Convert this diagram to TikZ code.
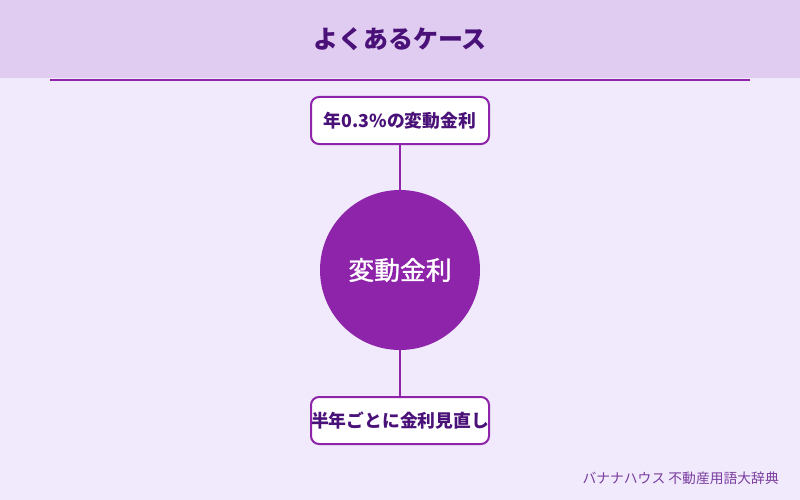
\documentclass[tikz,border=0pt]{standalone}
\usepackage{fontspec}
\setmainfont{Noto Sans CJK JP}
\newfontfamily\jpmedium{Noto Sans CJK JP}[FakeBold=1.2]
\definecolor{bgPurple}{HTML}{F0EAFC}
\definecolor{headPurple}{HTML}{E1CCF1}
\definecolor{mainPurple}{HTML}{8E24AA}
\definecolor{textPurple}{HTML}{4A1279}
\definecolor{footPurple}{HTML}{7A3C9E}
\begin{document}
\begin{tikzpicture}
[x=1pt,y=-1pt,
  linkDecorate/.style={-,line width=2pt,draw=mainPurple},%
  boxDecorate/.style={shape=rectangle,rounded corners=8pt,draw=mainPurple,line width=2pt,
    fill=white,minimum width=178pt,minimum height=47pt,inner sep=0pt,
    text=textPurple,font=\fontsize{17.8}{20}\selectfont\bfseries},%
  hubDecorate/.style={shape=circle,fill=mainPurple,minimum size=160pt,inner sep=0pt,
    text=white,font=\jpmedium\fontsize{25.8}{30}\selectfont}]
%% background and header
\fill[bgPurple] (0,0) rectangle (800,500);
\fill[headPurple] (0,0) rectangle (800,78);
\draw[line width=2pt,draw=mainPurple] (50,80) -- (750,80);
\node (title) at (400,39) [text=textPurple,font=\fontsize{25}{30}\selectfont\bfseries] {よくあるケース};
%% nodes
\node (hub) at (400,270) [hubDecorate] {変動金利};
\foreach \nodename/\nodelabel/\y in {
  rate/年0.3\%の変動金利/120.5, review/半年ごとに金利見直し/420.5}
{
  \node (\nodename) at (400,\y) [boxDecorate] {\nodelabel};
}
%% edges
\path
\foreach \startnode/\endnode in {rate/hub, hub/review}
{
  (\startnode) edge[linkDecorate] (\endnode)
};
\node (credit) at (779,478) [anchor=east,inner sep=0pt,text=footPurple,font=\fontsize{13.8}{16}\selectfont] {バナナハウス 不動産用語大辞典};
\end{tikzpicture}
\end{document}
